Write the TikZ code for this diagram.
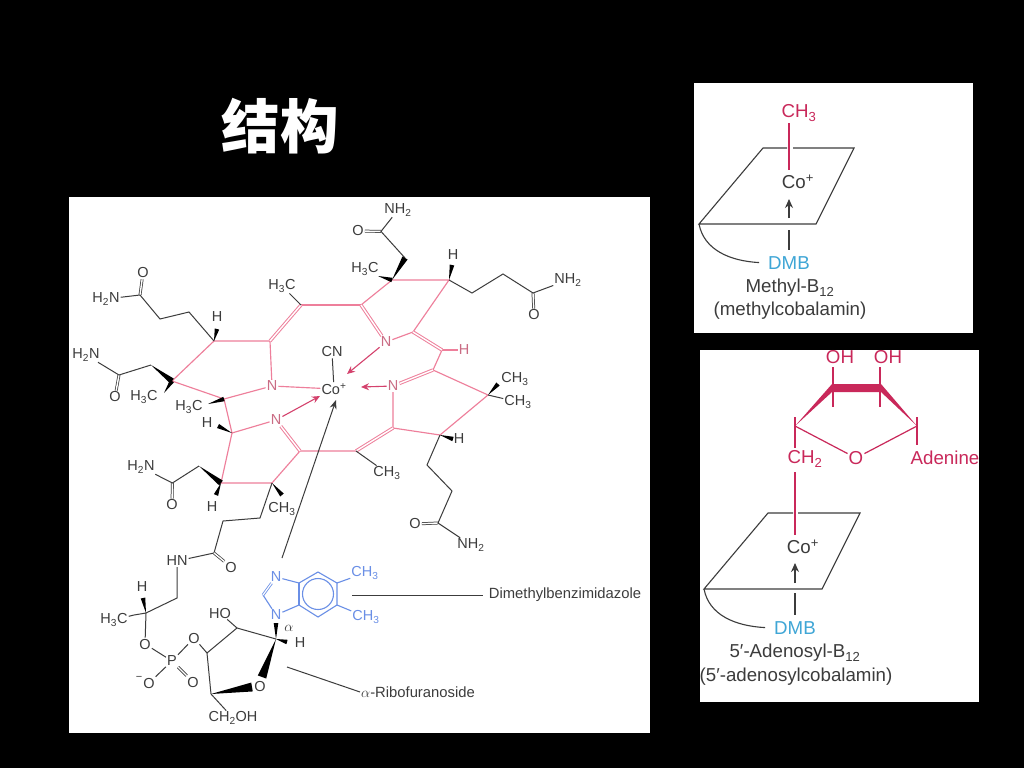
\documentclass[tikz,border=0pt]{standalone}
\usepackage{fontspec}
\setmainfont{Liberation Sans}
\newfontfamily\cjk{Noto Sans CJK SC}
\usetikzlibrary{calc,arrows.meta}
\definecolor{ringpink}{HTML}{EE7F9B}
\definecolor{deepred}{HTML}{C9285A}
\definecolor{dmbblue}{HTML}{6A8FE6}
\definecolor{skyblue}{HTML}{3FA6D6}
\definecolor{inkgray}{HTML}{3C3C3C}
\tikzset{
	atom/.style={inner sep=1pt,text=inkgray,font=\fontsize{14.5}{16}\selectfont},
	pinkatom/.style={atom,text=ringpink!85!black},
	blueatom/.style={atom,text=dmbblue},
	tag/.style={inner sep=1pt,text=inkgray,font=\fontsize{14.8}{17}\selectfont},
	paneltext/.style={inner sep=1pt,text=inkgray,font=\fontsize{18.7}{20}\selectfont},
	panelred/.style={paneltext,text=deepred},
	bond/.style={draw=inkgray,line width=1pt},
	dbond/.style={draw=inkgray,line width=.75pt,double=white,double distance=1.4pt},
	ring/.style={draw=ringpink,line width=1.15pt},
	dring/.style={draw=ringpink,line width=1pt,double=white,double distance=1.4pt},
	blue bond/.style={draw=dmbblue,line width=1.1pt},
	dative/.style={draw=deepred!70!ringpink,line width=1.1pt,-{Stealth[length=8pt,width=7pt]}},
	panel/.style={draw=inkgray,line width=1.1pt},
	panelbond/.style={draw=deepred,line width=1.2pt}
}
\newcommand{\wedgebond}[3][2.3pt]{\fill[black] (#2) -- ($(#3)!#1!90:(#2)$) -- ($(#3)!#1!-90:(#2)$) -- cycle;}
\begin{document}
\begin{tikzpicture}[x=1pt,y=-1pt]
	\fill[black] (0,0) rectangle (1024,768);
	\useasboundingbox (0,0) rectangle (1024,768);
	\fill[white] (69,197) rectangle (650,733);
	\fill[white] (694,83) rectangle (973,333);
	\fill[white] (700,350) rectangle (979,702);
	\node[text=white,font=\cjk\bfseries\fontsize{58.5}{60}\selectfont,inner sep=0pt] (title) at (280,126) {结构};

	% corrin ring
	\coordinate (r1) at (214,341);
	\coordinate (r2) at (270,341);
	\coordinate (r3) at (301,305);
	\coordinate (r4) at (361,305);
	\coordinate (r5) at (172,381);
	\coordinate (r6) at (224,399);
	\coordinate (r7) at (232,433);
	\coordinate (r8) at (300,451);
	\coordinate (r9) at (356,451);
	\coordinate (r10) at (392,280);
	\coordinate (r11) at (449,280);
	\coordinate (r12) at (413,332);
	\coordinate (r13) at (442,350);
	\coordinate (r14) at (433,370);
	\coordinate (r15) at (488,395);
	\coordinate (r16) at (440,435);
	\coordinate (r17) at (393,428);
	\coordinate (r18) at (221,483);
	\coordinate (r19) at (272,483);
	\node[pinkatom] (n1) at (272,386) {N};
	\node[pinkatom] (n2) at (276,420) {N};
	\node[pinkatom] (n3) at (386,342) {N};
	\node[pinkatom] (n4) at (393,386) {N};
	\node[atom] (co) at (334,389) {Co\textsuperscript{+}};
	\node[atom] (cn) at (332,352) {CN};
	\node[pinkatom] (h13) at (464,350) {H};
	\draw[ring] (n1) -- (r2) -- (r1) -- (r5) -- (r6) -- (n1);
	\draw[ring] (r6) -- (r7) -- (n2);
	\draw[ring] (r7) -- (r18) -- (r19) -- (r8) -- (r9);
	\draw[ring] (r3) -- (r4);
	\draw[ring] (r4) -- (r10) -- (r11) -- (r12) -- (n3);
	\draw[ring] (r13) -- (r14) -- (r15) -- (r16) -- (r17) -- (n4);
	\draw[ring] (r13) -- (h13);
	\draw[dring] (r2) -- (r3);
	\draw[dring] (r4) -- (n3);
	\draw[dring] (r12) -- (r13);
	\draw[dring] (r14) -- (n4);
	\draw[dring] (r17) -- (r9);
	\draw[dring] (n2) -- (r8);
	\draw[ring] (n1) -- (co);
	\draw[bond] (cn) -- (co);
	\coordinate (tip2) at (320,396);
	\coordinate (tip3) at (347,374);
	\coordinate (tip4) at (361,387);
	\coordinate (tip5) at (336,400);
	\draw[dative] (n2) -- (tip2);
	\draw[dative] (n3) -- (tip3);
	\draw[dative] (n4) -- (tip4);

	% side chains, upper left
	\node[atom] (o1) at (143,273) {O};
	\node[atom] (nh1) at (106,299) {H\textsubscript{2}N};
	\node[atom] (h1) at (217,317) {H};
	\coordinate (c1) at (140,295);
	\coordinate (c1a) at (160,319);
	\coordinate (c1b) at (189,312);
	\coordinate (w1) at (217,329);
	\draw[dbond] (o1) -- (c1);
	\draw[bond] (nh1) -- (c1) -- (c1a) -- (c1b) -- (r1);
	\wedgebond{r1}{w1}
	\node[atom] (o2) at (115,397) {O};
	\node[atom] (nh2) at (86,355) {H\textsubscript{2}N};
	\node[atom] (me2) at (144,397) {H\textsubscript{3}C};
	\node[atom] (me3) at (189,407) {H\textsubscript{3}C};
	\node[atom] (h7) at (207,423) {H};
	\coordinate (c2) at (119,375);
	\coordinate (c2a) at (151,365);
	\coordinate (w2) at (164,393);
	\coordinate (w3) at (208,404);
	\coordinate (w4) at (218,426);
	\draw[dbond] (o2) -- (c2);
	\draw[bond] (nh2) -- (c2) -- (c2a);
	\wedgebond[3pt]{c2a}{r5}
	\wedgebond{w2}{r5}
	\wedgebond{w3}{r6}
	\wedgebond{r7}{w4}
	\node[atom] (me4) at (282,286) {H\textsubscript{3}C};
	\draw[bond] (me4) -- (r3);

	% side chains, upper right
	\node[atom] (o5) at (358,231) {O};
	\node[atom] (nh5) at (398,210) {NH\textsubscript{2}};
	\node[atom] (me5) at (365,269) {H\textsubscript{3}C};
	\node[atom] (h11) at (453,255) {H};
	\coordinate (c5) at (381,231.4);
	\coordinate (c5a) at (405,258);
	\coordinate (w5) at (378,276);
	\coordinate (w6) at (452,265);
	\draw[dbond] (o5) -- (c5);
	\draw[bond] (nh5) -- (c5) -- (c5a);
	\wedgebond[3pt]{r10}{c5a}
	\wedgebond{w5}{r10}
	\wedgebond{r11}{w6}
	\node[atom] (o6) at (534,315) {O};
	\node[atom] (nh6) at (568,280) {NH\textsubscript{2}};
	\coordinate (c6) at (533,293);
	\coordinate (c6a) at (503,274);
	\coordinate (c6b) at (472,293);
	\draw[dbond] (o6) -- (c6);
	\draw[bond] (nh6) -- (c6) -- (c6a) -- (c6b) -- (r11);
	\node[atom] (me7) at (515,379) {CH\textsubscript{3}};
	\node[atom] (me8) at (518,402) {CH\textsubscript{3}};
	\node[atom] (h16) at (459,439) {H};
	\coordinate (w7) at (498,384);
	\coordinate (w8) at (453,439);
	\wedgebond{r15}{w7}
	\draw[bond] (r15) -- (me8);
	\wedgebond{r16}{w8}

	% side chains, lower right
	\node[atom] (me9) at (387,473) {CH\textsubscript{3}};
	\node[atom] (o9) at (415,524) {O};
	\node[atom] (nh9) at (471,545) {NH\textsubscript{2}};
	\coordinate (c9) at (438,523);
	\coordinate (c9a) at (452,491);
	\coordinate (c9b) at (427,465);
	\draw[bond] (r9) -- (me9);
	\draw[dbond] (o9) -- (c9);
	\draw[bond] (nh9) -- (c9) -- (c9a) -- (c9b) -- (r16);

	% side chains, lower left
	\node[atom] (o10) at (172,505) {O};
	\node[atom] (nh10) at (141,467) {H\textsubscript{2}N};
	\node[atom] (h18) at (212,507) {H};
	\node[atom] (me11) at (282,509) {CH\textsubscript{3}};
	\coordinate (c10) at (172.4,483);
	\coordinate (c10a) at (199,466);
	\coordinate (w10) at (216,495);
	\coordinate (w11) at (282,495);
	\draw[dbond] (o10) -- (c10);
	\draw[bond] (nh10) -- (c10) -- (c10a);
	\wedgebond[3pt]{c10a}{r18}
	\wedgebond{r18}{w10}
	\wedgebond{r19}{w11}

	% nucleotide loop
	\node[atom] (hn) at (177,561) {HN};
	\node[atom] (o12) at (231,567) {O};
	\node[atom] (h14) at (142,587) {H};
	\node[atom] (me14) at (114,620) {H\textsubscript{3}C};
	\node[atom] (o14) at (145,644) {O};
	\node[atom] (p) at (172,661) {P};
	\node[atom] (o15) at (194,638) {O};
	\node[atom] (o16) at (149,683) {O};
	\node[atom] (minus) at (139,678) {\fontsize{11}{12}\selectfont −};
	\node[atom] (o17) at (193,682) {O};
	\node[atom] (ho) at (220,613) {HO};
	\node[atom] (hr) at (300,643) {H};
	\node[atom] (alpha) at (289,628) {$\alpha$};
	\node[atom] (o18) at (260,686) {O};
	\node[atom] (ch2oh) at (233,718) {CH\textsubscript{2}OH};
	\coordinate (c12a) at (260,518);
	\coordinate (c12b) at (223,521);
	\coordinate (c12) at (214,553);
	\coordinate (c13) at (177,598);
	\coordinate (c14) at (146,613);
	\coordinate (w14) at (143,598);
	\coordinate (w15) at (134,615);
	\coordinate (c16) at (207,653);
	\coordinate (c17) at (237,628);
	\coordinate (c18) at (276,639);
	\coordinate (c19) at (211,694);
	\coordinate (w18) at (276,623);
	\coordinate (w19) at (262,677);
	\coordinate (w20) at (252,687);
	\coordinate (w21) at (287,642);
	\draw[bond] (r19) -- (c12a) -- (c12b) -- (c12) -- (hn) -- (c13) -- (c14) -- (o14) -- (p) -- (o15) -- (c16) -- (c17) -- (c18);
	\draw[dbond] (c12) -- (o12);
	\draw[bond] (p) -- (o16);
	\draw[dbond] (p) -- (o17);
	\draw[bond] (c17) -- (ho);
	\draw[bond] (c16) -- (c19) -- (ch2oh);
	\draw[bond] (me14) -- (w15) -- (c14);
	\wedgebond{c14}{w14}
	\wedgebond{c18}{w18}
	\wedgebond[4.5pt]{c18}{w19}
	\wedgebond[4.5pt]{c19}{w20}
	\wedgebond{c18}{w21}

	% dimethylbenzimidazole
	\node[blueatom] (nb1) at (276,577) {N};
	\node[blueatom] (nb2) at (276,615) {N};
	\coordinate (cb) at (263,595);
	\coordinate (b1) at (299,583);
	\coordinate (b2) at (318,572);
	\coordinate (b3) at (337,583);
	\coordinate (b4) at (337,605);
	\coordinate (b5) at (318,617);
	\coordinate (b6) at (299,605);
	\coordinate (bc) at (318,594);
	\node[blueatom] (meb1) at (365,573) {CH\textsubscript{3}};
	\node[blueatom] (meb2) at (366,617) {CH\textsubscript{3}};
	\draw[blue bond] (nb2) -- (cb);
	\draw[blue bond,double=white,double distance=1.2pt,line width=.8pt] (cb) -- (nb1);
	\draw[blue bond] (nb1) -- (b1) -- (b2) -- (b3) -- (b4) -- (b5) -- (b6) -- (nb2);
	\draw[blue bond] (b1) -- (b6);
	\draw[blue bond] (bc) circle (15.5);
	\draw[blue bond] (b3) -- (meb1);
	\draw[blue bond] (b4) -- (meb2);
	\coordinate (arrowfoot) at (282,558);
	\draw[bond,-{Stealth[length=9pt,width=7pt]}] (arrowfoot) -- (tip5);

	% labels
	\node[tag] (dmbname) at (565,595) {Dimethylbenzimidazole};
	\node[tag] (ribname) at (418,692) {$\alpha$-Ribofuranoside};
	\coordinate (dmbfoot) at (352,595);
	\coordinate (ribfoot) at (287,667);
	\draw[bond,shorten >=5pt] (dmbfoot) -- (dmbname.west);
	\draw[bond] (ribfoot) -- (ribname.west);

	% methyl-B12 panel
	\node[panelred] (ch3) at (799,113) {CH\textsubscript{3}};
	\node[paneltext] (co1) at (798,182) {Co\textsuperscript{+}};
	\node[paneltext,text=skyblue] (dmb1) at (789,263) {DMB};
	\node[paneltext] (lab1) at (790,288) {Methyl-B\textsubscript{12}};
	\node[paneltext] (lab2) at (790,311) {(methylcobalamin)};
	\coordinate (p1a) at (763,148);
	\coordinate (p1b) at (854,148);
	\coordinate (p1c) at (816,224);
	\coordinate (p1d) at (699,224);
	\coordinate (p1e) at (787,148);
	\coordinate (p1f) at (793,148);
	\coordinate (l1a) at (789,123);
	\coordinate (l1b) at (789,170);
	\coordinate (a1a) at (789,218);
	\coordinate (a1b) at (789,199);
	\coordinate (a1c) at (789,230);
	\draw[panel] (p1e) -- (p1a) -- (p1d) -- (p1c) -- (p1b) -- (p1f);
	\draw[panelbond] (l1a) -- (l1b);
	\draw[panel,-{Stealth[length=9pt,width=8pt]}] (a1a) -- (a1b);
	\draw[panel,shorten >=5pt] (a1c) -- (dmb1.north);
	\draw[panel,shorten >=8pt] (p1d) .. controls (704,250) and (730,261) .. (dmb1.west);

	% adenosyl-B12 panel
	\node[panelred] (oh1) at (840,357) {OH};
	\node[panelred] (oh2) at (888,357) {OH};
	\node[panelred] (ch2) at (805,459) {CH\textsubscript{2}};
	\node[panelred] (o3) at (856,458) {O};
	\node[panelred] (ade) at (945,458) {Adenine};
	\node[paneltext] (co2) at (803,547) {Co\textsuperscript{+}};
	\node[paneltext,text=skyblue] (dmb2) at (795,628) {DMB};
	\node[paneltext] (lab3) at (795,653) {5′-Adenosyl-B\textsubscript{12}};
	\node[paneltext] (lab4) at (796,677) {(5′-adenosylcobalamin)};
	\coordinate (s1) at (795,426);
	\coordinate (s2) at (833,388);
	\coordinate (s3) at (880,388);
	\coordinate (s4) at (917,426);
	\coordinate (t1a) at (795,417);
	\coordinate (t1b) at (795,448);
	\coordinate (t2a) at (833,367);
	\coordinate (t2b) at (833,407);
	\coordinate (t3a) at (880,367);
	\coordinate (t3b) at (880,407);
	\coordinate (t4a) at (917,417);
	\coordinate (t4b) at (917,445);
	\fill[deepred] (s1) -- ($(s2)+(-1,-4)$) -- ($(s3)+(1,-4)$) -- (s4) -- ($(s3)+(1,4)$) -- ($(s2)+(-1,4)$) -- cycle;
	\draw[panelbond] (t1a) -- (t1b);
	\draw[panelbond] (t2a) -- (t2b);
	\draw[panelbond] (t3a) -- (t3b);
	\draw[panelbond] (t4a) -- (t4b);
	\draw[panelbond] (s1) -- (o3) -- (s4);
	\coordinate (p2a) at (768,513);
	\coordinate (p2b) at (860,513);
	\coordinate (p2c) at (822,589);
	\coordinate (p2d) at (704,589);
	\coordinate (p2e) at (793,513);
	\coordinate (p2f) at (798,513);
	\coordinate (l2a) at (795,472);
	\coordinate (l2b) at (795,535);
	\coordinate (a2a) at (795,583);
	\coordinate (a2b) at (795,563);
	\coordinate (a2c) at (795,593);
	\draw[panel] (p2e) -- (p2a) -- (p2d) -- (p2c) -- (p2b) -- (p2f);
	\draw[panelbond] (l2a) -- (l2b);
	\draw[panel,-{Stealth[length=9pt,width=8pt]}] (a2a) -- (a2b);
	\draw[panel,shorten >=5pt] (a2c) -- (dmb2.north);
	\draw[panel,shorten >=8pt] (p2d) .. controls (709,615) and (735,626) .. (dmb2.west);
\end{tikzpicture}
\end{document}
